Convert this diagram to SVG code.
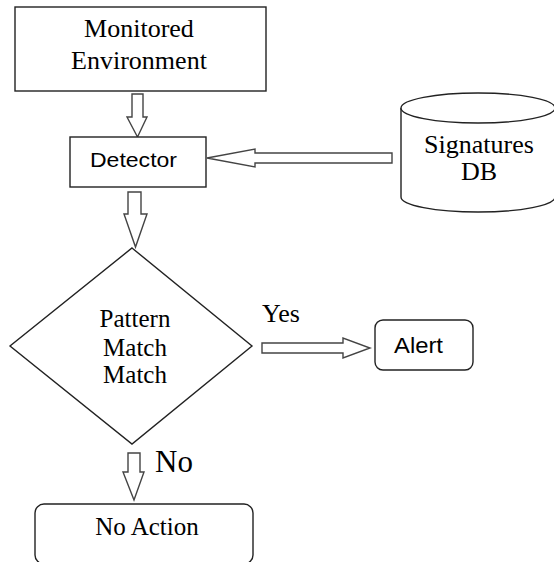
<svg xmlns="http://www.w3.org/2000/svg" width="554" height="562" viewBox="0 0 554 562">
<style>
.box{fill:#fff;stroke:#222;stroke-width:1.4}
.arr{fill:#fff;stroke:#444;stroke-width:1.4;stroke-linejoin:miter}
.serif{font-family:"Liberation Serif","Times New Roman",serif;fill:#000}
.sans{font-family:"Liberation Sans",Arial,sans-serif;fill:#000}
</style>
<rect width="554" height="562" fill="#fff"/>
<g id="connectors">
<path class="arr" d="M132,94 H143 V117 H147 L137.5,137 L127,117 H132 Z"/>
<path class="arr" d="M392,153 V163 H255 V167 L207,158 L255,149 V153 Z"/>
<path class="arr" d="M128,192 H141 V214 H147 L135.5,247 L124,214 H128 Z"/>
<path class="arr" d="M262,343 H343 V338 L370,348 L343,358 V353 H262 Z"/>
<path class="arr" d="M128,453 H140 V472 H144 L134,500 L123,472 H128 Z"/>
<text class="serif" x="262" y="322" font-size="26">Yes</text>
<text class="serif" x="155" y="472" font-size="31">No</text>
</g>
<g id="monitored">
<rect class="box" x="15" y="7" width="251" height="84"/>
<text class="serif" x="139" y="37" font-size="26" text-anchor="middle">Monitored</text>
<text class="serif" x="139" y="69" font-size="26" text-anchor="middle">Environment</text>
</g>
<g id="detector">
<rect class="box" x="70" y="137" width="136" height="50"/>
<text class="sans" x="90" y="167" font-size="20" textLength="87" lengthAdjust="spacingAndGlyphs">Detector</text>
</g>
<g id="signatures">
<path class="box" d="M401,108 V197 A77,15 0 0 0 555,197 V108"/>
<ellipse class="box" cx="478" cy="108" rx="77" ry="15"/>
<text class="serif" x="479" y="153" font-size="26" text-anchor="middle">Signatures</text>
<text class="serif" x="479" y="180" font-size="26" text-anchor="middle">DB</text>
</g>
<g id="pattern">
<polygon class="box" points="132,248 252,346 132,444 10,346"/>
<text class="serif" x="135" y="327" font-size="25" text-anchor="middle">Pattern</text>
<text class="serif" x="135" y="356" font-size="25" text-anchor="middle">Match</text>
<text class="serif" x="135" y="383" font-size="25" text-anchor="middle">Match</text>
</g>
<g id="alert">
<rect class="box" x="375" y="320" width="98" height="50" rx="8"/>
<text class="sans" x="394" y="353" font-size="22" textLength="49" lengthAdjust="spacingAndGlyphs">Alert</text>
</g>
<g id="noaction">
<rect class="box" x="35" y="504" width="218" height="60" rx="9"/>
<text class="serif" x="147" y="535" font-size="25" text-anchor="middle">No Action</text>
</g>
</svg>
